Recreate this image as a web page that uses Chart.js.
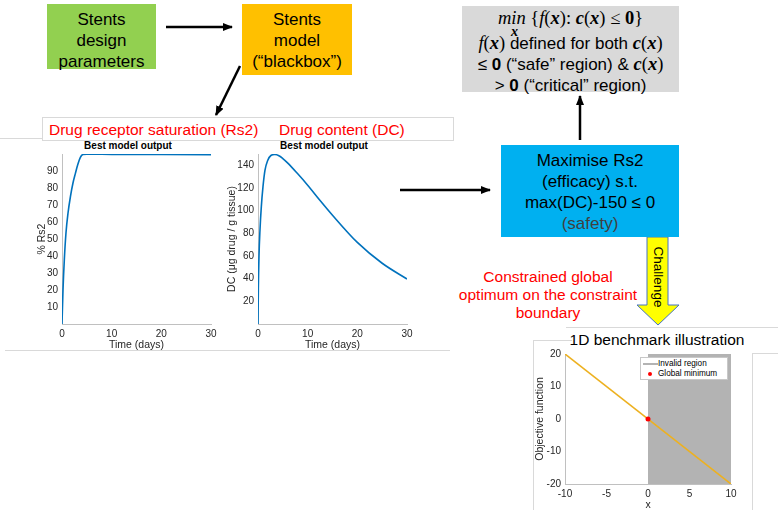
<!DOCTYPE html>
<html>
<head>
<meta charset="utf-8">
<script src="https://cdn.jsdelivr.net/npm/chart.js@4.4.0/dist/chart.umd.min.js"></script>
<style>
    body { margin: 0; background: #fff; font-family: "Liberation Sans", Arial, sans-serif; }
    #page { position: relative; width: 778px; height: 510px; overflow: hidden; }
    .box { position: absolute; text-align: center; font-size: 17px; line-height: 21px; color: #000; box-sizing: border-box; padding-top: 4.5px; }
    .abs { position: absolute; white-space: nowrap; }
    .line { position: absolute; left: 0; width: 100%; text-align: center; white-space: nowrap; font-size: 17px; line-height: 21px; }
    .m { font-family: "Liberation Serif", "DejaVu Serif", serif; font-size: 18.5px; }
    .red { color: #ff0000; }
    canvas { position: absolute; }
</style>
</head>
<body>
<div id="page">

    <svg width="778" height="510" style="position:absolute;left:0;top:0">
        <defs>
            <marker id="ah" markerWidth="10" markerHeight="8" refX="9" refY="4" orient="auto" markerUnits="userSpaceOnUse">
                <path d="M0,0 L10,4 L0,8 z" fill="#000"/>
            </marker>
        </defs>
        <!-- panel frames -->
        <g stroke="#d9d9d9" stroke-width="1" fill="none">
            <rect x="42.5" y="117.5" width="411" height="23"/>
            <line x1="0" y1="138.5" x2="42" y2="138.5"/>
            <line x1="5" y1="350.5" x2="450" y2="350.5"/>
            <line x1="566" y1="327.5" x2="778" y2="327.5"/>
            <line x1="533.5" y1="340" x2="533.5" y2="510"/>
            <line x1="533" y1="340.5" x2="572" y2="340.5"/>
            <line x1="752.5" y1="353" x2="752.5" y2="510"/>
            <line x1="752" y1="353.5" x2="778" y2="353.5"/>
        </g>
        <!-- arrows -->
        <g stroke="#000" stroke-width="2.5" marker-end="url(#ah)">
            <line x1="166" y1="27" x2="232" y2="27"/>
            <line x1="240" y1="66" x2="216" y2="115"/>
            <line x1="400" y1="190" x2="490" y2="190"/>
            <line x1="580" y1="140" x2="580" y2="96"/>
        </g>
        <polygon points="647,237 668,237 668,305 679,305 658,325 637,305 647,305"
                 fill="#ffff00" stroke="#4472c4" stroke-width="1"/>
    </svg>

    <div class="box" style="left:47px;top:4px;width:109px;height:65px;background:#92d050">Stents<br>design<br>parameters</div>
    <div class="box" style="left:242px;top:4px;width:110px;height:71px;background:#ffc000">Stents<br>model<br>(“blackbox”)</div>

    <div class="abs" style="left:462px;top:6px;width:217px;height:86px;background:#d9d9d9">
        <div class="line" style="top:2px"><span class="m" style="position:relative"><i>min</i><span style="position:absolute;left:13px;top:13px;font-size:14px"><b><i>x</i></b></span></span><span class="m"> {<i>f</i>(<b><i>x</i></b>): <b><i>c</i></b>(<b><i>x</i></b>) ≤ <b>0</b>}</span></div>
        <div class="line" style="top:27px"><span class="m"><i>f</i>(<b><i>x</i></b>)</span> defined for both <span class="m"><b><i>c</i></b>(<b><i>x</i></b>)</span></div>
        <div class="line" style="top:48px">≤ <b>0</b> (“safe” region) &amp; <span class="m"><b><i>c</i></b>(<b><i>x</i></b>)</span></div>
        <div class="line" style="top:69px">&gt; <b>0</b> (“critical” region)</div>
    </div>

    <div class="box" style="left:501px;top:145px;width:178px;height:92px;background:#00b0f0">Maximise Rs2<br>(efficacy) s.t.<br>max(DC)-150 ≤ 0<br><span style="color:#404040">(safety)</span></div>

    <div class="abs red" style="left:448px;top:268px;width:200px;text-align:center;font-size:15.5px;line-height:18px">Constrained global<br>optimum on the constraint<br>boundary</div>

    <div class="abs" style="left:658px;top:277px;font-size:13.5px;transform:translate(-50%,-50%) rotate(90deg)">Challenge</div>

    <div class="abs red" style="left:49px;top:120px;font-size:15.5px;line-height:20px">Drug receptor saturation (Rs2)</div>
    <div class="abs red" style="left:279px;top:120px;font-size:15.5px;line-height:20px">Drug content (DC)</div>
    <div class="abs" style="left:128px;top:140px;transform:translateX(-50%);font-size:10px;font-weight:bold;line-height:12px">Best model output</div>
    <div class="abs" style="left:324px;top:140px;transform:translateX(-50%);font-size:10px;font-weight:bold;line-height:12px">Best model output</div>
    <div class="abs" style="left:657px;top:330px;transform:translateX(-50%);font-size:15.5px;line-height:20px">1D benchmark illustration</div>

    <canvas id="rs2-chart" width="256" height="210" style="left:0;top:140px"></canvas>
    <canvas id="dc-chart" width="212" height="210" style="left:218px;top:140px"></canvas>
    <canvas id="bench-chart" width="220" height="170" style="left:530px;top:340px"></canvas>

    <div class="abs" style="left:640px;top:357px;width:86px;height:21px;background:#fff;border:1px solid #c8c8c8;font-size:8.2px;line-height:10px">
        <div class="abs" style="left:2px;top:4.5px;width:15px;height:2.5px;background:#b3b3b3"></div>
        <div class="abs" style="left:17px;top:1px">Invalid region</div>
        <div class="abs" style="left:7px;top:14px;width:4px;height:4px;border-radius:2px;background:#ff0000"></div>
        <div class="abs" style="left:17px;top:11px">Global minimum</div>
    </div>
</div>

<script>
// Drug receptor saturation
const rs2Time = [0, 0.2, 0.47, 0.8, 1.2, 1.7, 2.2, 2.7, 3.15, 3.7, 4.2, 5, 10, 20, 30];
const rs2Values = [0, 20, 38, 53.5, 65, 75, 82.8, 88.6, 93.5, 98, 99.7, 99.9, 99.8, 99.7, 99.6];

// Drug content
const dcTime = [0, 0.07, 0.2, 0.4, 0.67, 1, 1.4, 1.95, 2.6, 3.4, 4.3, 5, 6, 8, 10, 12.5, 15, 20, 25, 30];
const dcValues = [0, 31, 60, 83, 103.6, 121, 135.6, 144.3, 148.7, 149.5, 148.3, 146, 142, 132.5, 122.5, 109, 96, 72, 53.6, 39.7];

// 1D benchmark
const benchX = [-10, 10];
const benchY = [20, -20];
const invalidX = [0, 10];
const minimumX = [0];
const minimumY = [0];

const lineBlue = "#0072bd";
const lineOrange = "#edb120";
const axisGrey = "#c0c0c0";

Chart.defaults.font.family = '"Liberation Sans", Arial, sans-serif';
Chart.defaults.color = "#262626";

const toPoints = (xs, ys) => xs.map((x, i) => ({x: x, y: ys[i]}));

function makeAxis(min, max, step, title, size, titlePad, hide) {
    return {
        type: "linear",
        min: min,
        max: max,
        grid: { display: false, drawTicks: false },
        border: { display: true, color: axisGrey, width: 1 },
        ticks: {
            stepSize: step,
            padding: 4,
            font: { size: 10 },
            callback: (v) => hide.includes(v) ? "" : v
        },
        title: {
            display: true,
            text: title,
            font: { size: 10.5, lineHeight: 1 },
            padding: titlePad
        },
        afterFit: (s) => {
            if (s.isHorizontal()) s.height = size; else s.width = size;
        }
    };
}

function baseOptions(padding, xAxis, yAxis) {
    return {
        responsive: false,
        animation: false,
        layout: { padding: padding },
        plugins: { legend: { display: false }, tooltip: { enabled: false } },
        scales: { x: xAxis, y: yAxis }
    };
}

new Chart(document.getElementById("rs2-chart"), {
    type: "line",
    data: {
        datasets: [{
            data: toPoints(rs2Time, rs2Values),
            borderColor: lineBlue,
            borderWidth: 1.6,
            pointRadius: 0,
            cubicInterpolationMode: "monotone"
        }]
    },
    options: baseOptions({ top: 14, right: 45, left: 0, bottom: 0 },
        makeAxis(0, 30, 10, "Time (days)", 26, { top: 0, bottom: 0 }, []),
        makeAxis(0, 100, 10, "% Rs2", 62, { top: 37, bottom: 0 }, [0, 100]))
});

new Chart(document.getElementById("dc-chart"), {
    type: "line",
    data: {
        datasets: [{
            data: toPoints(dcTime, dcValues),
            borderColor: lineBlue,
            borderWidth: 1.6,
            pointRadius: 0,
            cubicInterpolationMode: "monotone"
        }]
    },
    options: baseOptions({ top: 14, right: 23, left: 0, bottom: 0 },
        makeAxis(0, 30, 10, "Time (days)", 26, { top: 0, bottom: 0 }, []),
        makeAxis(0, 150, 20, "DC (μg drug / g tissue)", 40, { top: 8.5, bottom: 0 }, [0, 150]))
});

new Chart(document.getElementById("bench-chart"), {
    type: "line",
    data: {
        datasets: [{
            label: "Global minimum",
            data: toPoints(minimumX, minimumY),
            showLine: false,
            pointRadius: 2.5,
            pointBackgroundColor: "#ff0000",
            pointBorderWidth: 0
        }, {
            label: "Objective",
            data: toPoints(benchX, benchY),
            borderColor: lineOrange,
            borderWidth: 1.6,
            pointRadius: 0
        }, {
            label: "Invalid region",
            data: toPoints(invalidX, invalidX.map(() => 20)),
            borderWidth: 0,
            pointRadius: 0,
            fill: "start",
            backgroundColor: "#b3b3b3"
        }]
    },
    options: baseOptions({ top: 14, right: 19, left: 0, bottom: 0 },
        makeAxis(-10, 10, 5, "x", 26, { top: 0, bottom: 0 }, []),
        makeAxis(-20, 20, 10, "Objective function", 35, { top: 4.75, bottom: 0 }, []))
});
</script>
</body>
</html>
